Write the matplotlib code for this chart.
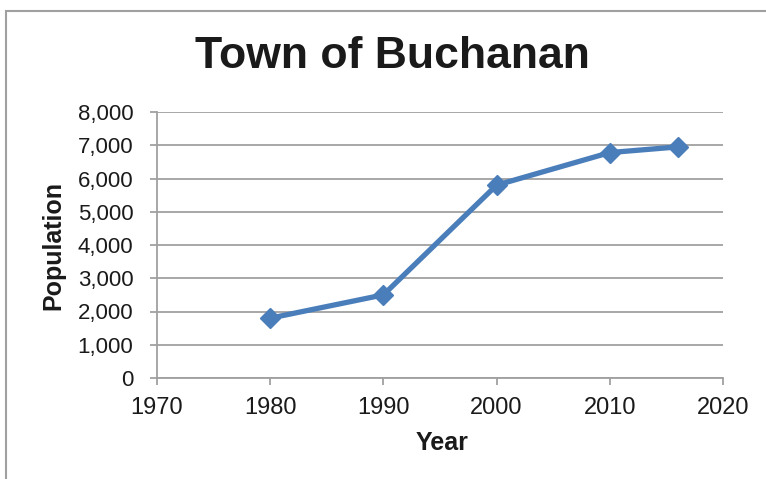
import matplotlib
matplotlib.use("Agg")
import matplotlib.pyplot as plt
from matplotlib.ticker import FuncFormatter, MultipleLocator
from matplotlib.patches import Rectangle

years = [1980, 1990, 2000, 2010, 2016]
population = [1800, 2500, 5800, 6780, 6950]

plt.rcParams['font.family'] = ['Liberation Sans', 'DejaVu Sans']

fig = plt.figure(figsize=(7.66, 4.79), dpi=100)
fig.patches.append(Rectangle((6/766, -0.1), 1.2, (479-11)/479 + 0.1,
                             transform=fig.transFigure, fill=False,
                             edgecolor="#a0a0a0", lw=1.5))

ax = fig.add_axes([157/766, 1-378/479, (723-157)/766, (378-112)/479])

ax.plot(years, population, color="#4a7ebb", lw=3.8, marker="D", ms=10.5,
        mfc="#4a7ebb", mec="#4a7ebb", zorder=3, clip_on=False)

ax.set_xlim(1970, 2020)
ax.set_ylim(0, 8000)
ax.xaxis.set_major_locator(MultipleLocator(10))
ax.yaxis.set_major_locator(MultipleLocator(1000))
ax.yaxis.set_major_formatter(FuncFormatter(lambda v, p: f"{int(v):,}"))

ax.grid(axis="y", color="#a0a0a0", lw=1.3)
ax.set_axisbelow(True)
for s in ["top", "right"]:
    ax.spines[s].set_visible(False)
for s in ["left", "bottom"]:
    ax.spines[s].set_color("#a0a0a0")
    ax.spines[s].set_linewidth(1.3)

ax.tick_params(axis="both", which="major", direction="out", length=5,
               width=1.3, color="#a0a0a0", labelcolor="#1a1a1a")
ax.tick_params(axis="y", pad=12, labelsize=16)
ax.tick_params(axis="x", pad=9, labelsize=17)

fig.text(392/766, 1-56/479, "Town of Buchanan", ha="center", va="center",
         fontsize=32, fontweight="bold", color="#1a1a1a")
fig.text(53/766, 1-245/479, "Population", ha="center", va="center",
         rotation=90, fontsize=18, fontweight="bold", color="#1a1a1a")
fig.text(442/766, 1-443/479, "Year", ha="center", va="center",
         fontsize=18, fontweight="bold", color="#1a1a1a")

fig.savefig("out.png", dpi=100)
